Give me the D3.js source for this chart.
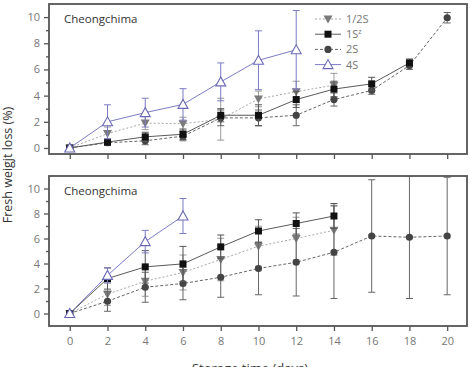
<!DOCTYPE html>
<html lang="en">
  <head>
    <meta charset="utf-8">
    <script src="https://cdn.jsdelivr.net/npm/d3@7"></script>
    <style>
      body{ margin:0; background:#fff; }
      text{ font-family:"Open Sans","Noto Sans",sans-serif; }
    </style>
  </head>
  <body>
    <svg id="chart"></svg>
  <script>
    // storage days
    var days = [0,2,4,6,8,10,12,14,16,18,20];
    var xTicks = [0,2,4,6,8,10,12,14,16,18,20];
    var yTicks = [0,2,4,6,8,10];
    var yMinor = [1,3,5,7,9];
    var seriesNames = ['1/2S','1S','2S','4S'];
    var cultivar = 'Cheongchima';

    // upper panel
    var topHalfS   = [0,1.1,1.9,1.85,2.2,3.75,4.3,4.8];
    var topHalfSe  = [0,0.5,0.5,0.5,1.6,0.6,0.8,0.9];
    var top1S      = [0,0.45,0.85,1.05,2.5,2.5,3.7,4.5,4.9,6.5];
    var top1Se     = [0,0.2,0.35,0.4,0.5,0.8,0.6,0.6,0.5,0.3];
    var top2S      = [0,0.4,0.55,0.9,2.3,2.3,2.5,3.7,4.4,6.3,9.95];
    var top2Se     = [0,0.2,0.3,0.35,0.6,0.6,0.8,0.5,0.3,0.3,0.4];
    var top4S      = [0,2.0,2.7,3.33,5.05,6.7,7.5];
    var top4Se     = [0,1.3,1.1,1.2,1.45,2.25,3.0];

    // lower panel
    var botHalfS   = [0,1.55,2.58,3.28,4.32,5.38,6.0,6.66];
    var botHalfSe  = [0,0.9,1.2,1.4,1.7,1.6,1.7,2.0];
    var bot1S      = [0,2.8,3.73,3.97,5.33,6.6,7.2,7.8];
    var bot1Se     = [0,0.85,1.3,1.4,0.95,0.9,0.85,1.0];
    var bot2S      = [0,0.98,2.1,2.4,2.9,3.6,4.1,4.9,6.2,6.1,6.2];
    var bot2Se     = [0,0.8,1.2,1.3,1.6,2.1,2.7,3.7,4.5,4.9,4.7];
    var bot4S      = [0,3.05,5.75,7.8];
    var bot4Se     = [0,0.6,0.9,1.4];

    var svgwidth = 470;
    var svgheight = 367;

    var svg = d3.select('#chart')
                .attr('width',svgwidth)
                .attr('height',svgheight);

    var left = 49, right = 467;
    var x = d3.scaleLinear().domain([-1.1,21.05]).range([left,right]);

    var styles = {
      '1/2S':{line:'#a8a8a8', dash:'2,2', mark:'#7a7a7a', err:'#9a9a9a', shape:'down'},
      '1S':{line:'#5a5a5a', dash:null, mark:'#111', err:'#555', shape:'square'},
      '2S':{line:'#666', dash:'3,2', mark:'#444', err:'#666', shape:'circle'},
      '4S':{line:'#7c7cc4', dash:null, mark:'#6a6ab6', err:'#7c7cc4', shape:'up'}
    };

    var build = function(vals,errs){
      return vals.map(function(v,i){ return {day:days[i], v:v, e:errs[i]}; });
    };

    var panels = [
      {top:4, bottom:154, domain:[-0.46,11], xLabels:false, id:'p1',
       series:[['1/2S',build(topHalfS,topHalfSe)],['2S',build(top2S,top2Se)],
               ['1S',build(top1S,top1Se)],['4S',build(top4S,top4Se)]]},
      {top:176, bottom:326, domain:[-1,11], xLabels:true, id:'p2',
       series:[['1/2S',build(botHalfS,botHalfSe)],['2S',build(bot2S,bot2Se)],
               ['1S',build(bot1S,bot1Se)],['4S',build(bot4S,bot4Se)]]}
    ];

    var drawMarker = function(g,shape,cx,cy,st){
      if(shape=='square'){
        g.append('rect').attr('x',cx-3.5).attr('y',cy-3.5)
         .attr('width',7).attr('height',7).attr('fill',st.mark);
      } else if(shape=='circle'){
        g.append('circle').attr('cx',cx).attr('cy',cy).attr('r',3.6).attr('fill',st.mark);
      } else if(shape=='down'){
        g.append('path').attr('d','M'+(cx-4.5)+','+(cy-3.5)+'L'+(cx+4.5)+','+(cy-3.5)+'L'+cx+','+(cy+4.5)+'Z')
         .attr('fill',st.mark);
      } else {
        g.append('path').attr('d','M'+(cx-5)+','+(cy+4)+'L'+(cx+5)+','+(cy+4)+'L'+cx+','+(cy-5)+'Z')
         .attr('fill','#fff').attr('stroke',st.mark).attr('stroke-width',1.1);
      }
    };

    panels.forEach(function(p){
      var y = d3.scaleLinear().domain(p.domain).range([p.bottom,p.top]);

      svg.append('clipPath').attr('id','clip'+p.id)
         .append('rect').attr('x',left).attr('y',p.top)
         .attr('width',right-left).attr('height',p.bottom-p.top);

      // y axis
      var yAxis = d3.axisLeft(y).tickValues(yTicks).tickSize(5).tickPadding(4);
      var ya = svg.append('g').attr('transform','translate('+left+',0)').call(yAxis);
      ya.select('.domain').remove();
      ya.selectAll('line').attr('stroke','#555').attr('stroke-width',1.3);
      ya.selectAll('text').style('fill','#777').style('font-size','11px');
      var ym = svg.append('g').attr('transform','translate('+left+',0)')
                  .call(d3.axisLeft(y).tickValues(yMinor).tickSize(3).tickFormat(''));
      ym.select('.domain').remove();
      ym.selectAll('line').attr('stroke','#555').attr('stroke-width',1.3);

      // x axis
      var xAxis = d3.axisBottom(x).tickValues(xTicks).tickSize(5).tickPadding(6);
      if(!p.xLabels){ xAxis.tickFormat(''); }
      var xa = svg.append('g').attr('transform','translate(0,'+p.bottom+')').call(xAxis);
      xa.select('.domain').remove();
      xa.selectAll('line').attr('stroke','#555').attr('stroke-width',1.3);
      xa.selectAll('text').style('fill','#777').style('font-size','11px');

      var plot = svg.append('g').attr('clip-path','url(#clip'+p.id+')');

      p.series.forEach(function(s){
        var st = styles[s[0]];
        var data = s[1];
        var g = plot.append('g');

        g.selectAll('.err').data(data.filter(function(d){ return d.e>0; }))
         .enter().append('path')
         .attr('d',function(d){
           var cx = x(d.day), y1 = y(d.v+d.e), y2 = y(d.v-d.e);
           return 'M'+(cx-3.5)+','+y1+'H'+(cx+3.5)+'M'+cx+','+y1+'V'+y2+'M'+(cx-3.5)+','+y2+'H'+(cx+3.5);
         })
         .attr('fill','none').attr('stroke',st.err).attr('stroke-width',1);

        var line = d3.line().x(function(d){ return x(d.day); }).y(function(d){ return y(d.v); });
        g.append('path').datum(data).attr('d',line)
         .attr('fill','none').attr('stroke',st.line).attr('stroke-width',1)
         .attr('stroke-dasharray',st.dash);

        data.forEach(function(d){ drawMarker(g,st.shape,x(d.day),y(d.v),st); });
      });

      // frame
      svg.append('rect').attr('x',left).attr('y',p.top)
         .attr('width',right-left).attr('height',p.bottom-p.top)
         .attr('fill','none').attr('stroke','#555').attr('stroke-width',1.8);

      svg.append('text').attr('x',64).attr('y',p.top+19)
         .attr('fill','#333').style('font-size','11.5px').text(cultivar);
    });

    // legend
    var legend = svg.append('g');
    seriesNames.forEach(function(n,i){
      var st = styles[n];
      var ly = 19 + i*15.2;
      legend.append('line').attr('x1',315).attr('x2',341).attr('y1',ly).attr('y2',ly)
            .attr('stroke',st.line).attr('stroke-width',1).attr('stroke-dasharray',st.dash);
      drawMarker(legend,st.shape,328,ly,st);
      var t = legend.append('text').attr('x',346).attr('y',ly+4)
            .attr('fill','#777').style('font-size','11px');
      if(n=='1S'){
        t.text('1S');
        t.append('tspan').attr('dy',-4).style('font-size','7px').text('z');
      } else {
        t.text(n);
      }
    });

    // axis titles
    svg.append('text').attr('transform','translate(12,165) rotate(-90)')
       .attr('text-anchor','middle').attr('fill','#333').style('font-size','12.5px')
       .text('Fresh weigjt loss (%)');
    svg.append('text').attr('x',250).attr('y',373)
       .attr('text-anchor','middle').attr('fill','#333').style('font-size','13px')
       .text('Storage time (days)');
  </script>
  </body>
</html>
